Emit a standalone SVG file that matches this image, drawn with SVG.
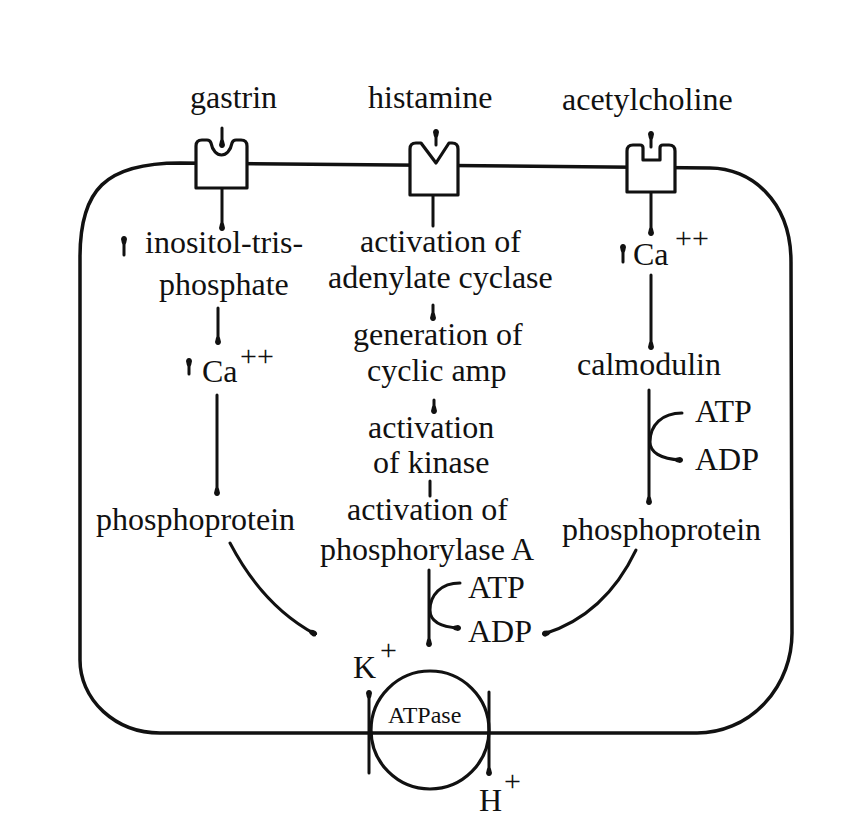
<svg xmlns="http://www.w3.org/2000/svg" width="852" height="818" viewBox="0 0 852 818">
<style>
.t{font-family:"Liberation Serif","Times New Roman",serif;font-size:32px;fill:#111}
.sup{font-size:30px}
.sm{font-size:24px}
.ln{fill:none;stroke:#111;stroke-width:3;stroke-linecap:round}
.cell{fill:none;stroke:#111;stroke-width:3.5}
.rec{fill:#fff;stroke:#111;stroke-width:3.2;stroke-linejoin:round}
.a{marker-end:url(#tip)}
</style>
<defs>
<marker id="tip" viewBox="0 0 10 7" refX="8" refY="3.5" markerWidth="10" markerHeight="7" markerUnits="userSpaceOnUse" orient="auto">
<path d="M0,3.5 Q3,0.6 7,0.5 Q10,1 10,3.5 Q10,6 7,6.5 Q3,6.4 0,3.5 Z" fill="#111"/>
</marker>
</defs>
<rect width="852" height="818" fill="#fff"/>

<g id="cell">
<path class="cell" d="M180,163 L710,168 C750,168 791,200 791,262 L792,632 A95,100 0 0 1 697,733 L160,733 A80,73 0 0 1 80,660 L80,257 C80,190 105,163 180,163 Z"/>
</g>

<g id="receptor-gastrin">
<path class="rec" d="M196,188 L196,146 Q196,140 202,140 L207,140 Q210,140 211,143 C214,159 229,159 232,143 Q233,140 236,140 L241,140 Q247,140 247,146 L247,188 Z"/>
<text class="t" x="190" y="108">gastrin</text>
</g>
<g id="receptor-histamine">
<path class="rec" d="M410,195 L410,149 Q410,143 416,143 L421,143 L436,163 L449,143 L452,143 Q458,143 458,149 L458,195 Z"/>
<text class="t" x="368" y="108">histamine</text>
</g>
<g id="receptor-acetylcholine">
<path class="rec" d="M627,192 L627,151 Q627,145 633,145 L640,145 Q643,145 643,148 L643,160 L660,160 L660,148 Q660,145 663,145 L669,145 Q675,145 675,151 L675,192 Z"/>
<text class="t" x="562" y="110">acetylcholine</text>
</g>

<g id="left-ip3">
<text class="t" x="145" y="253">inositol-tris-</text>
<text class="t" x="159" y="295">phosphate</text>
</g>
<g id="left-ca">
<text class="t" x="202" y="382">Ca</text>
<text class="t sup" x="240" y="366">++</text>
</g>
<g id="left-phosphoprotein">
<text class="t" x="96" y="530">phosphoprotein</text>
</g>

<g id="center-adenylate">
<text class="t" x="360" y="252">activation of</text>
<text class="t" x="328" y="288">adenylate cyclase</text>
</g>
<g id="center-camp">
<text class="t" x="353" y="345">generation of</text>
<text class="t" x="367" y="381">cyclic amp</text>
</g>
<g id="center-kinase">
<text class="t" x="368" y="438">activation</text>
<text class="t" x="373" y="473">of kinase</text>
</g>
<g id="center-phosphorylase">
<text class="t" x="347" y="520">activation of</text>
<text class="t" x="320" y="560">phosphorylase A</text>
</g>
<g id="center-atp">
<text class="t" x="468" y="598">ATP</text>
<text class="t" x="468" y="642">ADP</text>
</g>

<g id="right-ca">
<text class="t" x="633" y="265">Ca</text>
<text class="t sup" x="675" y="248">++</text>
</g>
<g id="right-calmodulin">
<text class="t" x="577" y="375">calmodulin</text>
</g>
<g id="right-atp">
<text class="t" x="695" y="422">ATP</text>
<text class="t" x="695" y="470">ADP</text>
</g>
<g id="right-phosphoprotein">
<text class="t" x="562" y="540">phosphoprotein</text>
</g>

<g id="atpase">
<circle cx="430" cy="730" r="59" fill="none" stroke="#111" stroke-width="3.2"/>
<text class="t sm" x="388" y="723">ATPase</text>
<text class="t" x="353" y="678">K</text>
<text class="t sup" x="380" y="660">+</text>
<text class="t" x="479" y="811">H</text>
<text class="t sup" x="504" y="791">+</text>
</g>

<g id="connectors">
<path class="ln a" d="M222,128 L222,146"/>
<path class="ln a" d="M436,145 L436,131"/>
<path class="ln a" d="M651,147 L651,133"/>
<path class="ln a" d="M222,189 L222,229"/>
<path class="ln" d="M433,196 L433,226"/>
<path class="ln a" d="M651,193 L651,234"/>
<path class="ln a" d="M124,255 L124,238"/>
<path class="ln a" d="M218,308 L218,343"/>
<path class="ln a" d="M189,374 L189,360"/>
<path class="ln a" d="M217,395 L217,494"/>
<path class="ln a" d="M230,543 Q263,606 315,634"/>
<path class="ln a" d="M433,305 L433,319"/>
<path class="ln a" d="M434,400 L434,412"/>
<path class="ln" d="M430,481 L430,496" stroke-width="3.5"/>
<path class="ln a" d="M429,570 L429,645"/>
<path class="ln a" d="M460,583 C441,583 430,595 430,610 C430,621 440,627 459,628"/>
<path class="ln a" d="M636,550 Q605,615 544,634"/>
<path class="ln a" d="M623,262 L623,246"/>
<path class="ln a" d="M651,275 L651,348"/>
<path class="ln a" d="M649,390 L649,503"/>
<path class="ln a" d="M682,413 C662,413 650,425 650,442 C650,452 660,459 681,460"/>
<path class="ln a" d="M369,773 L369,692"/>
<path class="ln a" d="M489,692 L489,774"/>
</g>
</svg>
